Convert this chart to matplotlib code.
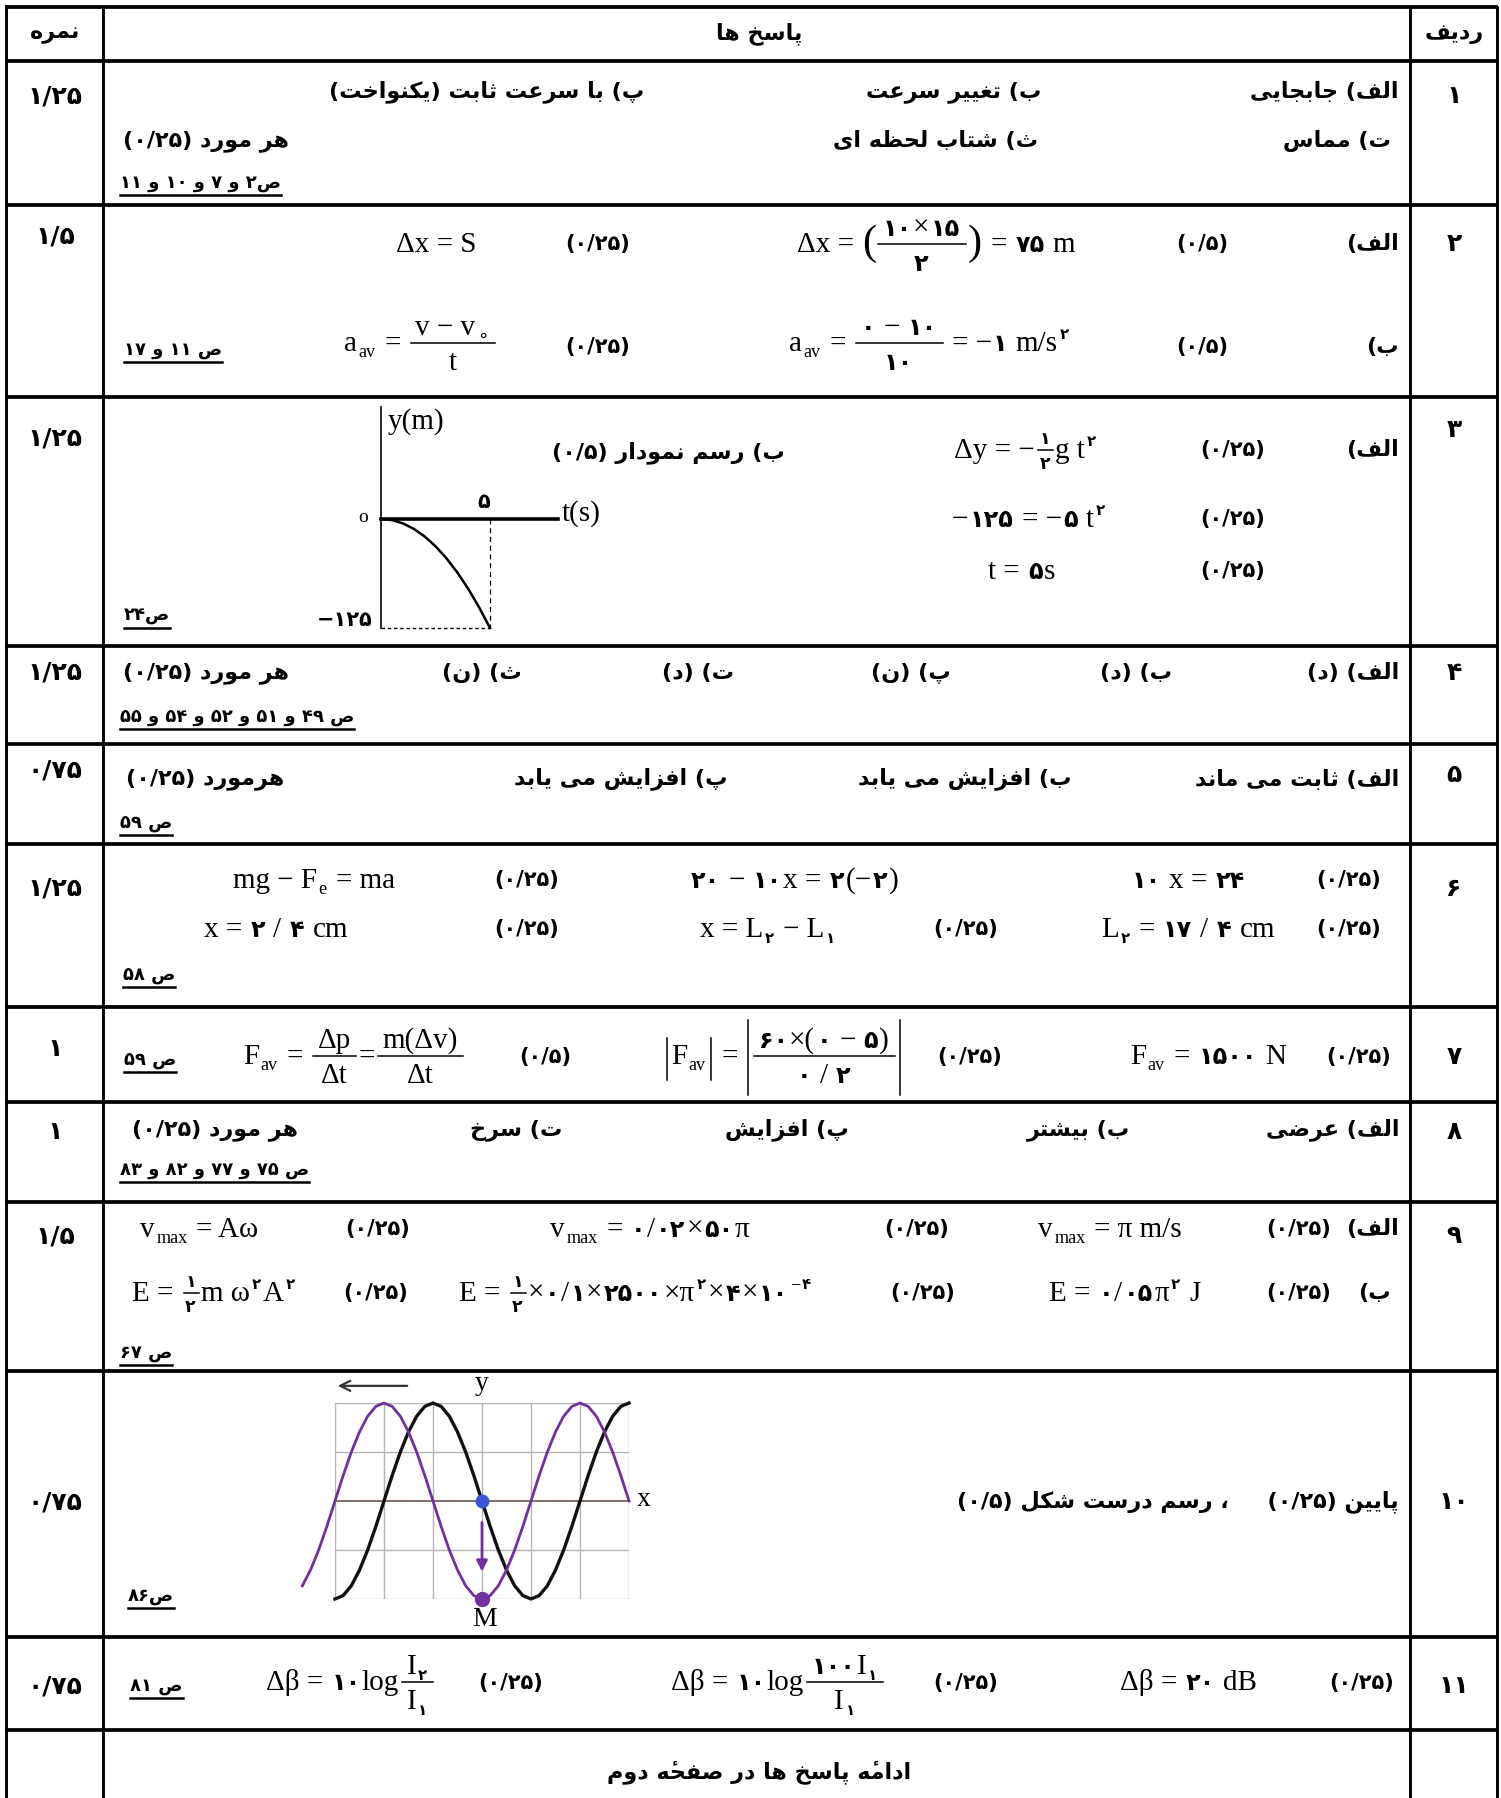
import re
import numpy as np
import matplotlib
matplotlib.use('Agg')
import matplotlib.pyplot as plt
from matplotlib.text import Text

# ---------------- table content ----------------
headers = ['نمره', 'پاسخ ها', 'ردیف']
row_numbers = ['۱', '۲', '۳', '۴', '۵', '۶', '۷', '۸', '۹', '۱۰', '۱۱']
row_scores = ['۱/۲۵', '۱/۵', '۱/۲۵', '۱/۲۵', '۰/۷۵', '۱/۲۵', '۱', '۱', '۱/۵', '۰/۷۵', '۰/۷۵']
page_refs = ['ص۲ و ۷ و ۱۰ و ۱۱', 'ص ۱۱ و ۱۷', 'ص۲۴', 'ص ۴۹ و ۵۱ و ۵۲ و ۵۴ و ۵۵', 'ص ۵۹',
             'ص ۵۸', 'ص ۵۹', 'ص ۷۵ و ۷۷ و ۸۲ و ۸۳', 'ص ۶۷', 'ص۸۶', 'ص ۸۱']
each_item = ['هر مورد (۰/۲۵)', 'هر مورد (۰/۲۵)', 'هرمورد (۰/۲۵)', 'هر مورد (۰/۲۵)']

row1_answers = ['الف) جابجایی', 'ب) تغییر سرعت', 'پ) با سرعت ثابت (یکنواخت)', 'ت) مماس', 'ث) شتاب لحظه ای']
row4_answers = ['الف) (د)', 'ب) (د)', 'پ) (ن)', 'ت) (د)', 'ث) (ن)']
row5_answers = ['الف) ثابت می ماند', 'ب) افزایش می یابد', 'پ) افزایش می یابد']
row8_answers = ['الف) عرضی', 'ب) بیشتر', 'پ) افزایش', 'ت) سرخ']
part_labels = ['الف)', 'ب)']
row3_part_b = 'ب) رسم نمودار (۰/۵)'
row10_answer = 'پایین (۰/۲۵)     ، رسم درست شکل (۰/۵)'
footer = 'ادامهٔ پاسخ ها در صفحهٔ دوم'

# equations ('_' sub, '^' sup, '/' fraction, 'f' small fraction, '(' big parens, '|' abs)
eq_row2 = [['Δx = S'],
           ['Δx = ', ('(', [('/', '۱۰×۱۵', '۲')]), ' = ۷۵ m'],
           ['a', ('_', 'av'), ' = ', ('/', ['v − v', ('_', '∘')], 't')],
           ['a', ('_', 'av'), ' = ', ('/', '۰ − ۱۰', '۱۰'), ' = −۱ m/s', ('^', '۲')]]
marks_row2 = ['(۰/۲۵)', '(۰/۵)', '(۰/۲۵)', '(۰/۵)']
eq_row3 = [['Δy = −', ('f', '۱', '۲'), 'g t', ('^', '۲')],
           ['−۱۲۵ = −۵ t', ('^', '۲')],
           ['t = ۵s']]
eq_row6 = [['mg − F', ('_', 'e'), ' = ma'], ['۲۰ − ۱۰x = ۲(−۲)'], ['۱۰ x = ۲۴'],
           ['x = ۲ / ۴ cm'], ['x = L', ('_', '۲'), ' − L', ('_', '۱')], ['L', ('_', '۲'), ' = ۱۷ / ۴ cm']]
eq_row7 = [['F', ('_', 'av'), ' = ', ('/', 'Δp', 'Δt'), '=', ('/', 'm(Δv)', 'Δt')],
           [('|', ['F', ('_', 'av')], 's'), ' = ', ('|', [('/', '۶۰×(۰ − ۵)', '۰ / ۲')], 'b')],
           ['F', ('_', 'av'), ' = ۱۵۰۰ N']]
marks_row7 = ['(۰/۵)', '(۰/۲۵)', '(۰/۲۵)']
eq_row9 = [['v', ('_', 'max'), ' = Aω'], ['v', ('_', 'max'), ' = ۰/۰۲×۵۰π'], ['v', ('_', 'max'), ' = π m/s'],
           ['E = ', ('f', '۱', '۲'), 'm ω', ('^', '۲'), 'A', ('^', '۲')],
           ['E = ', ('f', '۱', '۲'), '×۰/۱×۲۵۰۰×π', ('^', '۲'), '×۴×۱۰', ('^', '−۴')],
           ['E = ۰/۰۵π', ('^', '۲'), ' J']]
eq_row11 = [['Δβ = ۱۰log', ('/', ['I', ('_', '۲')], ['I', ('_', '۱')])],
            ['Δβ = ۱۰log', ('/', ['۱۰۰I', ('_', '۱')], ['I', ('_', '۱')])],
            ['Δβ = ۲۰ dB']]
mark_q = '(۰/۲۵)'

# graph of question 3: y(t) of a falling body
fall_t = [0, 0.5, 1, 1.5, 2, 2.5, 3, 3.5, 4, 4.5, 5]
fall_y = [0, -1.25, -5, -11.25, -20, -31.25, -45, -61.25, -80, -101.25, -125]

# graph of question 10: two snapshots of the wave (grid cells)
wave_black_x = np.linspace(0, 6, 37)
wave_black_y = [-2, -1.93, -1.73, -1.41, -1, -0.52, 0, 0.52, 1, 1.41, 1.73, 1.93, 2,
                1.93, 1.73, 1.41, 1, 0.52, 0, -0.52, -1, -1.41, -1.73, -1.93, -2,
                -1.93, -1.73, -1.41, -1, -0.52, 0, 0.52, 1, 1.41, 1.73, 1.93, 2]
wave_purple_x = np.linspace(-4 / 6, 6, 41)
wave_purple_y = [-1.73, -1.41, -1, -0.52, 0, 0.52, 1, 1.41, 1.73, 1.93, 2, 1.93, 1.73, 1.41,
                 1, 0.52, 0, -0.52, -1, -1.41, -1.73, -1.93, -2, -1.93, -1.73, -1.41, -1,
                 -0.52, 0, 0.52, 1, 1.41, 1.73, 1.93, 2, 1.93, 1.73, 1.41, 1, 0.52, 0]

# ---------------- persian shaping (no bidi lib available) ----------------
FORMS = {
    'ا': (0xFE8D, 0xFE8E), 'آ': (0xFE81, 0xFE82), 'د': (0xFEA9, 0xFEAA), 'ذ': (0xFEAB, 0xFEAC),
    'ر': (0xFEAD, 0xFEAE), 'ز': (0xFEAF, 0xFEB0), 'ژ': (0xFB8A, 0xFB8B), 'و': (0xFEED, 0xFEEE),
    'ب': (0xFE8F, 0xFE90, 0xFE91, 0xFE92), 'پ': (0xFB56, 0xFB57, 0xFB58, 0xFB59),
    'ت': (0xFE95, 0xFE96, 0xFE97, 0xFE98), 'ث': (0xFE99, 0xFE9A, 0xFE9B, 0xFE9C),
    'ج': (0xFE9D, 0xFE9E, 0xFE9F, 0xFEA0), 'چ': (0xFB7A, 0xFB7B, 0xFB7C, 0xFB7D),
    'ح': (0xFEA1, 0xFEA2, 0xFEA3, 0xFEA4), 'خ': (0xFEA5, 0xFEA6, 0xFEA7, 0xFEA8),
    'س': (0xFEB1, 0xFEB2, 0xFEB3, 0xFEB4), 'ش': (0xFEB5, 0xFEB6, 0xFEB7, 0xFEB8),
    'ص': (0xFEB9, 0xFEBA, 0xFEBB, 0xFEBC), 'ض': (0xFEBD, 0xFEBE, 0xFEBF, 0xFEC0),
    'ط': (0xFEC1, 0xFEC2, 0xFEC3, 0xFEC4), 'ظ': (0xFEC5, 0xFEC6, 0xFEC7, 0xFEC8),
    'ع': (0xFEC9, 0xFECA, 0xFECB, 0xFECC), 'غ': (0xFECD, 0xFECE, 0xFECF, 0xFED0),
    'ف': (0xFED1, 0xFED2, 0xFED3, 0xFED4), 'ق': (0xFED5, 0xFED6, 0xFED7, 0xFED8),
    'ک': (0xFB8E, 0xFB8F, 0xFB90, 0xFB91), 'گ': (0xFB92, 0xFB93, 0xFB94, 0xFB95),
    'ل': (0xFEDD, 0xFEDE, 0xFEDF, 0xFEE0), 'م': (0xFEE1, 0xFEE2, 0xFEE3, 0xFEE4),
    'ن': (0xFEE5, 0xFEE6, 0xFEE7, 0xFEE8), 'ه': (0xFEE9, 0xFEEA, 0xFEEB, 0xFEEC),
    'ی': (0xFBFC, 0xFBFD, 0xFBFE, 0xFBFF),
}
MARKS = {chr(c) for c in range(0x064B, 0x0660)} | {'\u0670'}
MIRROR = {'(': ')', ')': '('}


def shape(p):
    ch = list(p)
    n = len(ch)
    res = []
    i = 0
    while i < n:
        c = ch[i]
        if c in MARKS and res:
            res[-1] += c
            i += 1
            continue
        if c not in FORMS:
            res.append(c)
            i += 1
            continue
        j = i - 1
        while j >= 0 and ch[j] in MARKS:
            j -= 1
        prev = j >= 0 and ch[j] in FORMS and len(FORMS[ch[j]]) == 4
        k = i + 1
        while k < n and ch[k] in MARKS:
            k += 1
        nxt = k < n and ch[k] in FORMS
        if c == 'ل' and k < n and ch[k] == 'ا':
            res.append(chr(0xFEFC if prev else 0xFEFB))
            i = k + 1
            continue
        f = FORMS[c]
        if len(f) == 2:
            code = f[1] if prev else f[0]
        elif prev and nxt:
            code = f[3]
        elif prev:
            code = f[1]
        elif nxt:
            code = f[2]
        else:
            code = f[0]
        res.append(chr(code))
        i += 1
    return res


def fa(s):
    parts = re.split(r'([0-9۰-۹]+(?:[/.][0-9۰-۹]+)*)', s)
    out = []
    for k, p in enumerate(parts):
        if k % 2:
            out.append(p)
        else:
            out.append(''.join(MIRROR.get(c, c) for c in reversed(shape(p))))
    return ''.join(reversed(out))


# ---------------- figure ----------------
W, H = 1501, 1798
PX = 100 / 72
SP = 0.24
FA = ['DejaVu Sans']
SERIF = ['Liberation Serif', 'DejaVu Sans']

fig = plt.figure(figsize=(W / 100, H / 100), dpi=100)
ax = fig.add_axes([0, 0, 1, 1])
ax.set_xlim(0, W)
ax.set_ylim(H, 0)
ax.axis('off')
R = fig.canvas.get_renderer()


def ptext(x, y, s, size=16, ha='right', under=False):
    t = ax.text(x, y, fa(s), fontsize=size, family=FA, weight='bold', ha=ha, va='center')
    if under:
        bb = t.get_window_extent(R)
        ax.plot([bb.x0, bb.x1], [y + 0.66 * size * PX] * 2, color='k', lw=1.8)
    return t


def mark(x, y, s, size=15):
    ax.text(x, y, fa(s), fontsize=size, family=FA, weight='bold', ha='center', va='center')


def shift(arts, dx):
    for a in arts:
        if isinstance(a, Text):
            a.set_x(a.get_position()[0] + dx)
        else:
            a.set_xdata(np.asarray(a.get_xdata()) + dx)


def seg(x, y, s, size, arts):
    x0 = x
    for k, p in enumerate(re.split(r'([۰-۹]+)', s)):
        if not p:
            continue
        lead = len(p) - len(p.lstrip(' '))
        trail = len(p) - len(p.rstrip(' '))
        x += lead * SP * size * PX
        core = p.strip(' ')
        if core:
            if k % 2:
                t = ax.text(x, y, core, fontsize=size * 0.82, family=FA, weight='bold', va='baseline')
            else:
                t = ax.text(x, y, core, fontsize=size, family=SERIF, va='baseline')
            arts.append(t)
            x += t.get_window_extent(R).width + 1.2
        x += trail * SP * size * PX
    return x - x0


def as_list(v):
    return [v] if isinstance(v, str) else v


def layout(items, x, y, size, arts):
    x0 = x
    em = size * PX
    for it in items:
        if isinstance(it, str):
            x += seg(x, y, it, size, arts)
            continue
        kind = it[0]
        if kind == '_':
            x += seg(x + 0.5, y + 0.22 * em, it[1], size * 0.62, arts) + 1
        elif kind == '^':
            x += seg(x + 1, y - 0.42 * em, it[1], size * 0.62, arts) + 2
        elif kind in ('/', 'f'):
            s2 = size if kind == '/' else size * 0.72
            e2 = s2 * PX
            bar = y - 0.27 * em
            na, da = [], []
            wn = layout(as_list(it[1]), 0, bar - 0.28 * e2, s2, na)
            wd = layout(as_list(it[2]), 0, bar + 0.92 * e2, s2, da)
            w = max(wn, wd) + (0.3 * e2 if kind == '/' else 0.15 * e2)
            shift(na, x + 2 + (w - wn) / 2)
            shift(da, x + 2 + (w - wd) / 2)
            ln, = ax.plot([x + 2, x + 2 + w], [bar, bar], color='k', lw=1.1)
            arts += na + da + [ln]
            x += w + 4
        elif kind == '(':
            t1 = ax.text(x, y - 0.27 * em, '(', fontsize=size * 1.45, family=SERIF, va='center')
            w1 = t1.get_window_extent(R).width
            inner = []
            wi = layout(it[1], x + w1, y, size, inner)
            t2 = ax.text(x + w1 + wi, y - 0.27 * em, ')', fontsize=size * 1.45, family=SERIF, va='center')
            w2 = t2.get_window_extent(R).width
            arts += [t1, t2] + inner
            x += w1 + wi + w2 + 2
        elif kind == '|':
            up, dn = (0.9, 0.55) if it[2] == 's' else (1.5, 1.07)
            inner = []
            wi = layout(it[1], x + 6, y, size, inner)
            l1, = ax.plot([x + 2, x + 2], [y - up * em, y + dn * em], color='k', lw=1.1)
            l2, = ax.plot([x + 9 + wi, x + 9 + wi], [y - up * em, y + dn * em], color='k', lw=1.1)
            arts += inner + [l1, l2]
            x += wi + 13
    return x - x0


def eq(x, y, items, size=21):
    layout(items, x, y, size, [])


# ---------------- grid of the table ----------------
h_lines = [7, 61, 205, 397, 646, 744, 844, 1007, 1102, 1202, 1371, 1637, 1730]
v_lines = [6, 103, 1410, 1497]
for yy in h_lines:
    ax.plot([5, 1498], [yy, yy], color='k', lw=2.7, solid_capstyle='butt')
for xx in v_lines:
    ax.plot([xx, xx], [6, H], color='k', lw=2.1, solid_capstyle='butt')

# header
ptext(55, 34, headers[0], size=16, ha='center')
ptext(759, 34, headers[1], size=16, ha='center')
ptext(1454, 34, headers[2], size=16, ha='center')

# scores and row numbers
score_y = [96, 237, 439, 673, 771, 889, 1049, 1132, 1236, 1502, 1686]
number_y = [96, 244, 430, 673, 775, 889, 1057, 1132, 1236, 1502, 1686]
for s, n, ys, yn in zip(row_scores, row_numbers, score_y, number_y):
    ptext(55, ys, s, size=18, ha='center')
    ptext(1454, yn, n, size=18, ha='center')

# page references (underlined)
ref_x = [120, 124, 124, 120, 120, 123, 124, 120, 120, 128, 130]
ref_y = [183, 350, 616, 717, 823, 975, 1060, 1170, 1353, 1596, 1686]
for s, xx, yy in zip(page_refs, ref_x, ref_y):
    ptext(xx, yy, s, size=13, ha='left', under=True)

# row 1
for s, xx, yy in zip(row1_answers, [1399, 1041, 644, 1391, 1038], [92, 92, 92, 141, 141]):
    ptext(xx, yy, s)
ptext(123, 141, each_item[0], ha='left')

# row 2
ptext(1399, 244, part_labels[0])
ptext(1399, 347, part_labels[1])
for s, (xx, yy) in zip(marks_row2, [(598, 244), (1202, 244), (598, 347), (1202, 347)]):
    mark(xx, yy, s)
for items, (xx, yy) in zip(eq_row2, [(396, 252), (797, 252), (344, 351), (789, 351)]):
    eq(xx, yy, items)

# row 3
ptext(1399, 450, part_labels[0])
for yy in [450, 519, 571]:
    mark(1233, yy, mark_q)
ptext(785, 453, row3_part_b)
for items, (xx, yy) in zip(eq_row3, [(954, 458), (952, 527), (988, 579)]):
    eq(xx, yy, items)

g3 = fig.add_axes([381 / W, 1 - 628 / H, (558 - 381) / W, (628 - 407) / H])
g3.set_xlim(0, 8.12)
g3.set_ylim(-125, 128.4)
g3.axis('off')
g3.plot([0, 0], [-125, 128.4], color='k', lw=1.2, clip_on=False)
g3.plot([0, 8.12], [0, 0], color='k', lw=2.6, clip_on=False)
g3.plot(fall_t, fall_y, color='k', lw=1.8, clip_on=False)
g3.plot([5, 5], [0, -125], color='k', lw=0.9, ls=(0, (4, 3)), clip_on=False)
g3.plot([0, 5], [-125, -125], color='k', lw=1.0, ls=(0, (2.5, 2)), clip_on=False)
g3.text(0.3, 112, 'y(m)', fontsize=21, family=SERIF, va='center', ha='left')
g3.text(8.3, 5.7, 't(s)', fontsize=21, family=SERIF, va='center', ha='left')
g3.text(4.72, 19.5, '۵', fontsize=15, family=FA, weight='bold', va='center', ha='center')
g3.text(-0.83, 2, 'o', fontsize=14, family=SERIF, va='center', ha='center')
g3.text(-0.37, -116, '−۱۲۵', fontsize=15, family=FA, weight='bold', va='center', ha='right')

# row 4
for s, xx in zip(row4_answers, [1399, 1172, 951, 734, 522]):
    ptext(xx, 673, s)
ptext(123, 673, each_item[1], ha='left')

# row 5
for s, xx in zip(row5_answers, [1399, 1072, 727]):
    ptext(xx, 779, s)
ptext(126, 779, each_item[2], ha='left')

# row 6
for items, (xx, yy) in zip(eq_row6, [(233, 888), (691, 888), (1132, 888),
                                      (204, 937), (700, 937), (1101, 937)]):
    eq(xx, yy, items)
for xx, yy in [(527, 880), (1349, 880), (527, 929), (966, 929), (1349, 929)]:
    mark(xx, yy, mark_q)

# row 7
for items, xx in zip(eq_row7, [243, 665, 1130]):
    eq(xx, 1064, items)
for s, xx in zip(marks_row7, [545, 970, 1359]):
    mark(xx, 1057, s)

# row 8
for s, xx in zip(row8_answers, [1399, 1130, 849, 562]):
    ptext(xx, 1130, s)
ptext(132, 1130, each_item[3], ha='left')

# row 9
ptext(1399, 1229, part_labels[0])
ptext(1391, 1293, part_labels[1])
for items, (xx, yy) in zip(eq_row9, [(140, 1237), (550, 1237), (1038, 1237),
                                      (132, 1301), (459, 1301), (1049, 1301)]):
    eq(xx, yy, items)
for xx, yy in [(378, 1229), (917, 1229), (1299, 1229), (376, 1293), (923, 1293), (1299, 1293)]:
    mark(xx, yy, mark_q)

# row 10
ptext(1399, 1502, row10_answer)
g10 = fig.add_axes([335 / W, 1 - 1599 / H, (629 - 335) / W, (1599 - 1403) / H])
g10.set_xlim(0, 6)
g10.set_ylim(-2, 2)
g10.axis('off')
for v in range(7):
    g10.plot([v, v], [-2, 2], color='#b4b4b4', lw=1.0)
for v in [-2, -1, 1, 2]:
    g10.plot([0, 6], [v, v], color='#b4b4b4', lw=1.0)
g10.plot([0, 6], [0, 0], color='#7d6f66', lw=1.4)
g10.plot(wave_black_x, wave_black_y, color='#111111', lw=2.4, clip_on=False)
g10.plot(wave_purple_x, wave_purple_y, color='#7030a0', lw=2.0, clip_on=False)
g10.plot(3, 0, 'o', color='#3b55d4', ms=9, clip_on=False)
g10.plot(3, -2, 'o', color='#7030a0', ms=10, clip_on=False)
g10.annotate('', xy=(3, -1.5), xytext=(3, -0.38),
             arrowprops=dict(arrowstyle='-|>', color='#7030a0', lw=2, mutation_scale=16))
g10.annotate('', xy=(0, 2.35), xytext=(1.53, 2.35), annotation_clip=False,
             arrowprops=dict(arrowstyle='->', color='#333333', lw=1.6, mutation_scale=18))
g10.text(3.0, 2.4, 'y', fontsize=20, family=SERIF, ha='center', va='center')
g10.text(6.29, 0.04, 'x', fontsize=20, family=SERIF, ha='center', va='center')
g10.text(3.06, -2.42, 'M', fontsize=20, family=SERIF, ha='center', va='center')

# row 11
for items, xx in zip(eq_row11, [266, 671, 1120]):
    eq(xx, 1690, items)
for xx in [511, 966, 1362]:
    mark(xx, 1683, mark_q)

# last row
ptext(759, 1772, footer, size=16, ha='center')

fig.savefig('out.png', dpi=100)
